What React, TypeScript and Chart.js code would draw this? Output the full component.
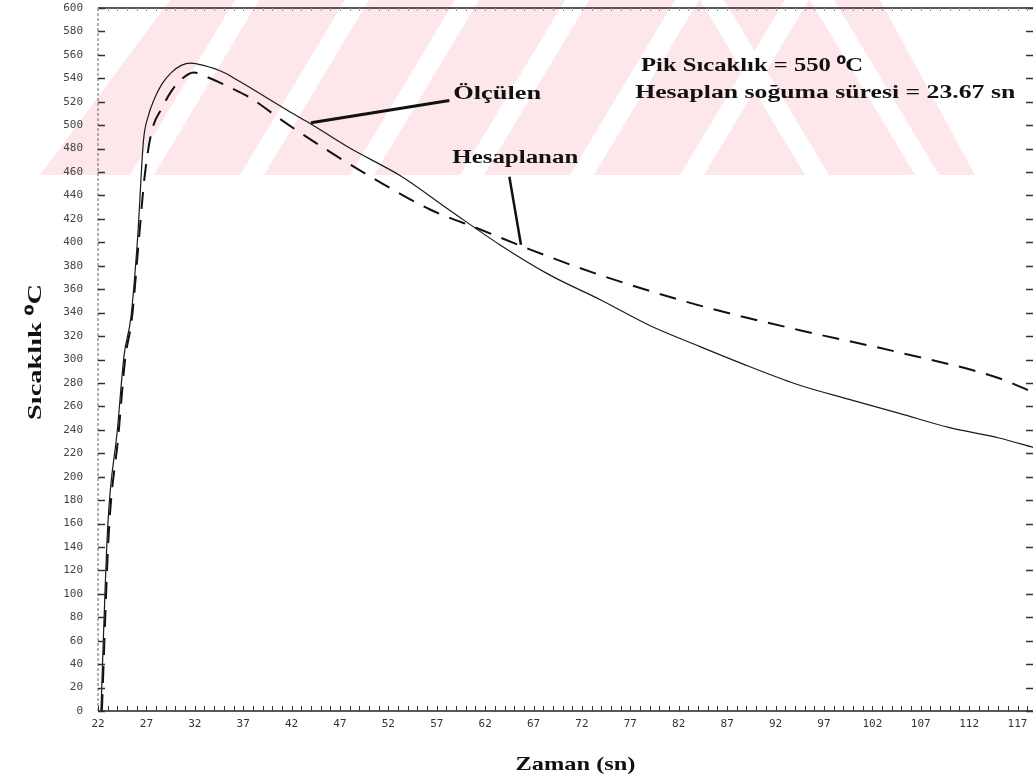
import React, { useEffect, useRef } from 'react';
import { Chart, registerables } from 'chart.js';

Chart.register(...registerables);

// ---- Data ----
const measuredX = [22.3, 23.0, 24.0, 24.7, 25.4, 26.1, 26.7, 27.2, 27.8, 28.6, 29.6, 30.6, 31.6, 32.9, 35.0, 36.7, 41.9, 44.0, 48.1, 53.2, 58.4, 63.5, 68.7, 73.9, 79.0, 84.2, 89.3, 94.5, 99.6, 104.8, 109.9, 115.1, 118.6];
const measuredY = [0, 157, 240, 304, 336, 405, 487, 508, 522, 535, 545, 551, 553, 551, 545, 537, 511, 501, 480, 457, 427, 398, 372, 351, 329, 311, 294, 278, 266, 254, 242, 233, 225];

const computedX = [22.4, 23.1, 24.1, 24.8, 25.5, 26.2, 26.8, 27.5, 28.7, 29.5, 30.6, 31.9, 33.3, 35.7, 37.8, 41.2, 46.0, 51.2, 56.3, 61.5, 66.6, 73.9, 84.2, 94.5, 104.8, 115.1, 118.6];
const computedY = [0, 150, 235, 300, 335, 400, 455, 493, 516, 528, 539, 545, 541, 532, 523, 503, 477, 451, 428, 411, 394, 372, 346, 325, 306, 284, 272];

const xMin = 22;
const xMax = 118.6;
const xMinorStep = 1;
const xLabelStep = 5;
const yMin = 0;
const yMax = 600;
const yStep = 20;

const seriesNames = ['Ölçülen', 'Hesaplanan'];
const yTitle = 'Sıcaklık ⁰C';
const xTitle = 'Zaman (sn)';
const infoLines = ['Pik Sıcaklık = 550 ⁰C', 'Hesaplan soğuma süresi = 23.67 sn'];

const serif = '"Liberation Serif", "Times New Roman", serif';
const mono = '"DejaVu Sans Mono", monospace';

function drawWatermark(ctx: CanvasRenderingContext2D, w: number) {
  const h = 175;
  ctx.save();
  ctx.beginPath();
  ctx.rect(0, 0, w, h);
  ctx.clip();
  ctx.fillStyle = '#fde7eb';
  ctx.beginPath();
  ctx.moveTo(40, h);
  ctx.lineTo(170, 0);
  ctx.lineTo(w, 0);
  ctx.lineTo(w, h);
  ctx.closePath();
  ctx.fill();
  ctx.fillStyle = '#ffffff';
  for (let k = 0; k < 6; k++) {
    const x0 = 130 + k * 110;
    ctx.beginPath();
    ctx.moveTo(x0, h);
    ctx.lineTo(x0 + 24, h);
    ctx.lineTo(x0 + 24 + 105, 0);
    ctx.lineTo(x0 + 105, 0);
    ctx.closePath();
    ctx.fill();
  }
  for (let k = 0; k < 2; k++) {
    const t = 700 + k * 110;
    ctx.beginPath();
    ctx.moveTo(t, 0);
    ctx.lineTo(t + 24, 0);
    ctx.lineTo(t + 24 + 105, h);
    ctx.lineTo(t + 105, h);
    ctx.closePath();
    ctx.fill();
  }
  ctx.beginPath();
  ctx.moveTo(880, 0);
  ctx.lineTo(w, 0);
  ctx.lineTo(w, h);
  ctx.lineTo(975, h);
  ctx.closePath();
  ctx.fill();
  ctx.restore();
}

// draws text horizontally stretched to a given width (the scanned font is wide)
function wideText(ctx: CanvasRenderingContext2D, text: string, x: number, y: number, width: number, align: 'left' | 'center', rotate = 0) {
  ctx.save();
  ctx.translate(x, y);
  if (rotate) ctx.rotate(rotate);
  const w = ctx.measureText(text).width;
  ctx.scale(width / w, 1);
  ctx.textBaseline = 'middle';
  ctx.textAlign = align;
  ctx.fillText(text, 0, 0);
  ctx.restore();
}

const framePlugin = {
  id: 'frame',
  beforeDraw(chart: any) {
    drawWatermark(chart.ctx, chart.width);
  },
  afterDraw(chart: any) {
    const ctx: CanvasRenderingContext2D = chart.ctx;
    const xs = chart.scales.x;
    const ys = chart.scales.y;
    const { left, right, top, bottom } = chart.chartArea;
    ctx.save();
    ctx.strokeStyle = '#222';
    ctx.lineWidth = 1.5;
    ctx.beginPath();
    ctx.moveTo(left, bottom);
    ctx.lineTo(right, bottom);
    ctx.stroke();
    ctx.beginPath();
    ctx.moveTo(left, top);
    ctx.lineTo(right, top);
    ctx.stroke();
    ctx.lineWidth = 1;
    ctx.strokeStyle = '#666';
    ctx.setLineDash([3, 2]);
    ctx.beginPath();
    ctx.moveTo(left, top);
    ctx.lineTo(left, bottom);
    ctx.stroke();
    ctx.setLineDash([]);
    ctx.strokeStyle = '#333';
    ctx.lineWidth = 1.3;
    for (let v = yMin; v <= yMax; v += yStep) {
      const py = Math.round(ys.getPixelForValue(v)) + 0.5;
      ctx.beginPath();
      ctx.moveTo(left, py);
      ctx.lineTo(left + 7, py);
      ctx.moveTo(right - 7, py);
      ctx.lineTo(right, py);
      ctx.stroke();
    }
    for (let v = xMin; v <= xMax; v += xMinorStep) {
      const px = Math.round(xs.getPixelForValue(v)) + 0.5;
      ctx.strokeStyle = '#333';
      ctx.lineWidth = 1;
      ctx.beginPath();
      ctx.moveTo(px, bottom);
      ctx.lineTo(px, bottom - 5);
      ctx.stroke();
      ctx.strokeStyle = '#999';
      ctx.beginPath();
      ctx.moveTo(px, top);
      ctx.lineTo(px, top + 3);
      ctx.stroke();
    }
    ctx.fillStyle = '#111';
    ctx.font = 'bold 19px ' + serif;
    wideText(ctx, xTitle, (left + right) / 2 + 10, 765, 120, 'center');
    wideText(ctx, yTitle, 36, 352, 136, 'center', -Math.PI / 2);
    ctx.font = 'bold 18px ' + serif;
    wideText(ctx, infoLines[0], xs.getPixelForValue(78.1), ys.getPixelForValue(550), 222, 'left');
    wideText(ctx, infoLines[1], xs.getPixelForValue(77.5), ys.getPixelForValue(527), 380, 'left');
    wideText(ctx, seriesNames[0], xs.getPixelForValue(58.7), ys.getPixelForValue(526), 88, 'left');
    wideText(ctx, seriesNames[1], xs.getPixelForValue(58.6), ys.getPixelForValue(472), 126, 'left');
    ctx.strokeStyle = '#111';
    ctx.lineWidth = 3;
    ctx.beginPath();
    ctx.moveTo(xs.getPixelForValue(44.0), ys.getPixelForValue(502));
    ctx.lineTo(xs.getPixelForValue(58.3), ys.getPixelForValue(521));
    ctx.stroke();
    ctx.lineWidth = 2.5;
    ctx.beginPath();
    ctx.moveTo(xs.getPixelForValue(64.5), ys.getPixelForValue(456));
    ctx.lineTo(xs.getPixelForValue(65.7), ys.getPixelForValue(398));
    ctx.stroke();
    ctx.restore();
  },
};

export default function App() {
  const ref = useRef<HTMLCanvasElement | null>(null);
  useEffect(() => {
    if (!ref.current) return;
    const chart = new Chart(ref.current, {
      type: 'line',
      data: {
        datasets: [
          {
            label: seriesNames[0],
            data: measuredX.map((x, i) => ({ x, y: measuredY[i] })),
            borderColor: '#1a1a1a',
            borderWidth: 1.2,
            pointRadius: 0,
            cubicInterpolationMode: 'monotone',
            fill: false,
          },
          {
            label: seriesNames[1],
            data: computedX.map((x, i) => ({ x, y: computedY[i] })),
            borderColor: '#111',
            borderWidth: 2,
            borderDash: [17, 11],
            pointRadius: 0,
            cubicInterpolationMode: 'monotone',
            fill: false,
          },
        ],
      },
      options: {
        animation: false,
        responsive: true,
        maintainAspectRatio: false,
        layout: { padding: { top: 8, right: 2, left: 0, bottom: 0 } },
        plugins: { legend: { display: false }, tooltip: { enabled: false } },
        scales: {
          x: {
            type: 'linear',
            min: xMin,
            max: xMax,
            grid: { display: false, drawTicks: false },
            border: { display: false },
            ticks: {
              stepSize: xMinorStep,
              autoSkip: false,
              maxRotation: 0,
              padding: 7,
              color: '#333',
              font: { family: mono, size: 11 },
              callback: (v: any) => ((Number(v) - xMin) % xLabelStep === 0 ? String(v) : ''),
            },
            title: { display: false },
            afterFit: (s: any) => {
              s.height = 72;
              s.paddingLeft = 0;
              s.paddingRight = 0;
            },
          },
          y: {
            type: 'linear',
            min: yMin,
            max: yMax,
            grid: { display: false, drawTicks: false },
            border: { display: false },
            ticks: {
              stepSize: yStep,
              autoSkip: false,
              padding: 15,
              color: '#444',
              font: { family: mono, size: 11 },
            },
            title: { display: false },
            afterFit: (s: any) => {
              s.width = 98;
              s.paddingTop = 0;
              s.paddingBottom = 0;
            },
          },
        },
      },
      plugins: [framePlugin],
    } as any);
    return () => chart.destroy();
  }, []);
  return (
    <div style={{ position: 'fixed', left: 0, top: 0, width: 1035, height: 783, background: '#fff' }}>
      <canvas ref={ref} />
    </div>
  );
}
